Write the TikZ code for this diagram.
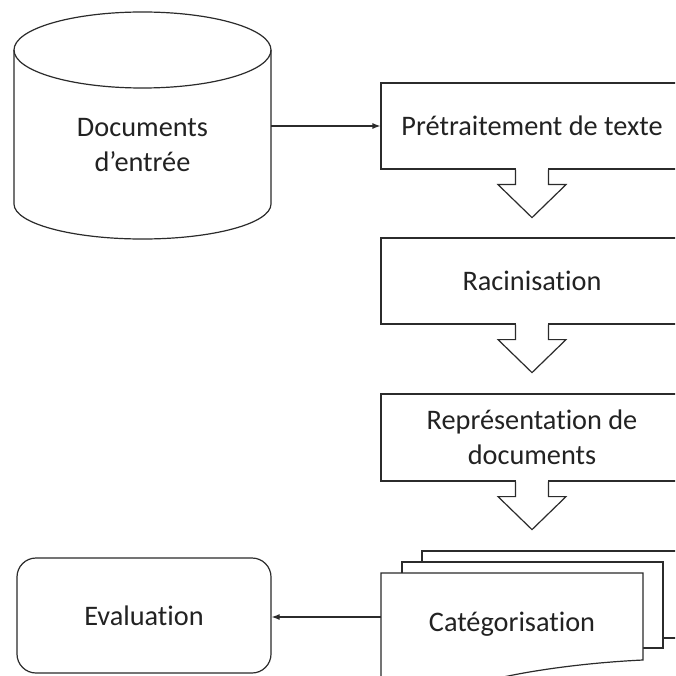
\documentclass[tikz,border=0pt]{standalone}
\usepackage{fontspec}
\setmainfont[Ligatures={NoCommon}]{Carlito}
\usetikzlibrary{arrows.meta}
\definecolor{ln}{HTML}{2B2B2B}
\definecolor{tx}{HTML}{222222}
\tikzset{
  lnstyle/.style={draw=ln, line width=1.2pt},
  procbox/.style={lnstyle, fill=white, rectangle, minimum width=302pt, minimum height=86pt, inner sep=0pt},
  lbl/.style={text=tx, font=\fontsize{28.3}{35}\selectfont, align=center, inner sep=0pt},
  conn/.style={draw=ln, line width=1.2pt, -{Latex[length=8pt,width=6pt]}},
}
\begin{document}
\begin{tikzpicture}[x=1pt,y=-1pt]
\useasboundingbox (0,0) rectangle (675,676);
\clip (0,0) rectangle (675,676);
\fill[white] (0,0) rectangle (675,676);

% cylinder
\draw[lnstyle, fill=white] (14,50) -- (14,204) arc[start angle=180, end angle=360, x radius=128.5pt, y radius=35pt] -- (271,50);
\draw[lnstyle] (142.5,50) ellipse[x radius=128.5pt, y radius=38pt];
\node[lbl] (docs) at (142.5,145.5) {Documents\\d’entrée};
\coordinate (cylR) at (271,126);

% process boxes
\node[procbox] (b1) at (532,126) {};
\node[lbl] (t1) at (532,126) {Prétraitement de texte};
\node[procbox] (b2) at (532,281) {};
\node[lbl] (t2) at (532,281) {Racinisation};
\node[procbox, minimum height=87pt] (b3) at (532,437.5) {};
\node[lbl] (t3) at (532,437.5) {Représentation de\\documents};

% block arrows
\foreach \b in {b1,b2,b3}{
  \fill[white] ([xshift=-15.9pt,yshift=2pt]\b.south) rectangle ([xshift=15.9pt,yshift=-2pt]\b.south);
  \draw[lnstyle, line join=miter]
    ([xshift=-16.5pt]\b.south) -- ++(0,15) -- ++(-17.5,0) -- ++(34,33) -- ++(34,-33) -- ++(-17.5,0) -- ++(0,-15);
}

% multi-document
\draw[lnstyle, fill=white] (422,573) -- (422,551) -- (700,551) -- (700,638) -- (663,638);
\draw[lnstyle, fill=white] (402,573) -- (402,562) -- (663,562) -- (663,648) -- (643,648);
\draw[lnstyle, fill=white] (381,700) -- (381,573) -- (643,573) -- (643,660)
  .. controls (600,662) and (540,668) .. (490,680);
\coordinate (fpL) at (381,617);
\node[lbl] (t4) at (512,624) {Catégorisation};

% evaluation
\node[lnstyle, rounded corners=19pt, minimum width=254pt, minimum height=115pt, inner sep=0pt] (ev) at (144,615.5) {};
\node[lbl] (t5) at (144,615.5) {Evaluation};

% connectors
\draw[conn] (cylR) -- (b1.west);
\draw[conn] (fpL) -- (ev.east |- fpL);
\end{tikzpicture}
\end{document}
